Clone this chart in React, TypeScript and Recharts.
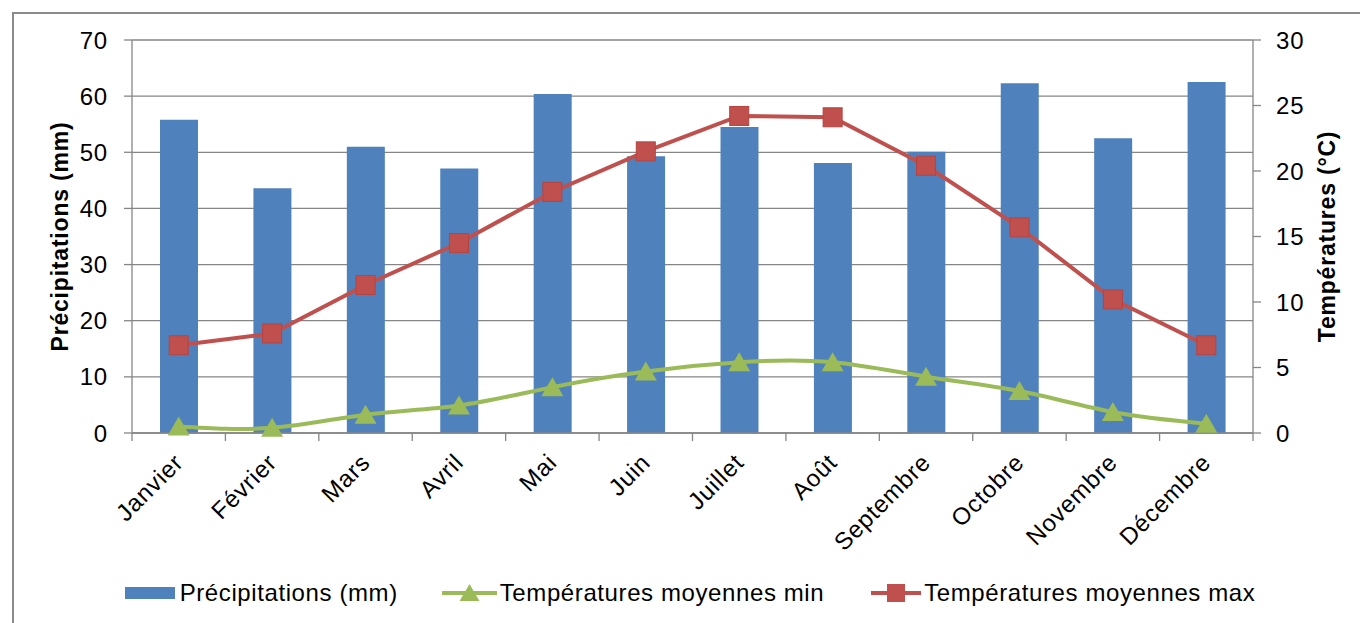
import React from 'react';
import { ComposedChart, Bar, Line, XAxis, YAxis, CartesianGrid, Legend } from 'recharts';

const months = ['Janvier', 'Février', 'Mars', 'Avril', 'Mai', 'Juin', 'Juillet', 'Août', 'Septembre', 'Octobre', 'Novembre', 'Décembre'];
const precipitations = [55.8, 43.6, 51.0, 47.1, 60.4, 49.3, 54.5, 48.1, 50.1, 62.3, 52.5, 62.5];
const tempMin = [0.5, 0.4, 1.4, 2.1, 3.5, 4.7, 5.4, 5.4, 4.3, 3.2, 1.6, 0.7];
const tempMax = [6.7, 7.6, 11.3, 14.5, 18.4, 21.5, 24.2, 24.1, 20.4, 15.7, 10.2, 6.7];
const leftTicks = [0, 10, 20, 30, 40, 50, 60, 70];
const rightTicks = [0, 5, 10, 15, 20, 25, 30];

const seriesNames = {
  precip: 'Précipitations (mm)',
  min: 'Températures moyennes min',
  max: 'Températures moyennes max',
};

const BLUE = '#4F81BD';
const GREEN = '#9BBB59';
const RED = '#C0504D';
const GREY = '#868686';
const FONT = '"Liberation Sans", Arial, sans-serif';

const data = months.map((m, i) => ({
  month: m,
  precip: precipitations[i],
  min: tempMin[i],
  max: tempMax[i],
}));

const MonthTick = (props: any) => {
  const { x, y, payload, index, width, visibleTicksCount } = props;
  let half = payload && typeof payload.offset === 'number' && payload.offset > 0 ? payload.offset : 0;
  if (!half && width && visibleTicksCount) half = width / visibleTicksCount / 2;
  const ax = x + 6;
  const ay = y + 31;
  const isLast = visibleTicksCount ? index === visibleTicksCount - 1 : index === months.length - 1;
  return (
    <g>
      <line x1={x - half} y1={y} x2={x - half} y2={y + 8} stroke={GREY} strokeWidth={1.3} />
      {isLast && <line x1={x + half} y1={y} x2={x + half} y2={y + 8} stroke={GREY} strokeWidth={1.3} />}
      <text
        x={ax}
        y={ay}
        transform={`rotate(-45, ${ax}, ${ay})`}
        textAnchor="end"
        fontFamily={FONT}
        fontSize={24}
        letterSpacing={0.8}
        fill="#000"
      >
        {payload.value}
      </text>
    </g>
  );
};

const SquareDot = (props: any) => {
  const { cx, cy } = props;
  if (cx == null || cy == null) return null;
  return <rect x={cx - 9.5} y={cy - 9.5} width={19} height={19} fill={RED} stroke="#B8433F" strokeWidth={1} />;
};

const TriangleDot = (props: any) => {
  const { cx, cy } = props;
  if (cx == null || cy == null) return null;
  return <polygon points={`${cx},${cy - 10} ${cx + 11},${cy + 9} ${cx - 11},${cy + 9}`} fill={GREEN} />;
};

const LegendContent = () => (
  <div
    style={{
      display: 'flex',
      justifyContent: 'center',
      alignItems: 'center',
      fontFamily: FONT,
      fontSize: 24,
      letterSpacing: 0.6,
      color: '#000',
      paddingLeft: 20,
      lineHeight: '28px',
    }}
  >
    <span style={{ display: 'flex', alignItems: 'center' }}>
      <svg width={50} height={14}>
        <rect x={0} y={1} width={50} height={12} fill={BLUE} />
      </svg>
      <span style={{ marginLeft: 5 }}>{seriesNames.precip}</span>
    </span>
    <span style={{ display: 'flex', alignItems: 'center', marginLeft: 44 }}>
      <svg width={55} height={22}>
        <line x1={0} y1={11} x2={55} y2={11} stroke={GREEN} strokeWidth={4} />
        <polygon points="27.5,2 37.5,19 17.5,19" fill={GREEN} />
      </svg>
      <span style={{ marginLeft: 3 }}>{seriesNames.min}</span>
    </span>
    <span style={{ display: 'flex', alignItems: 'center', marginLeft: 47 }}>
      <svg width={50} height={22}>
        <line x1={0} y1={11} x2={50} y2={11} stroke={RED} strokeWidth={4} />
        <rect x={16} y={2} width={18} height={18} fill={RED} />
      </svg>
      <span style={{ marginLeft: 3 }}>{seriesNames.max}</span>
    </span>
  </div>
);

export default function App() {
  return (
    <div style={{ position: 'absolute', left: 0, top: 0, width: 1360, height: 623, background: '#fff', overflow: 'hidden' }}>
      <div
        style={{
          position: 'absolute',
          left: 12,
          top: 12,
          width: 1400,
          height: 700,
          border: '2px solid #8a8a8a',
          boxSizing: 'border-box',
        }}
      />
      <div style={{ position: 'absolute', left: 0, top: 0 }}>
        <ComposedChart width={1360} height={623} data={data} margin={{ top: 40, right: 0, bottom: 189, left: 0 }}>
          <CartesianGrid yAxisId="left" horizontal vertical={false} stroke={GREY} strokeWidth={1.3} />
          <XAxis
            dataKey="month"
            height={1}
            tickLine={false}
            tickSize={0}
            tickMargin={0}
            interval={0}
            axisLine={{ stroke: GREY, strokeWidth: 1.3 }}
            tick={<MonthTick />}
          />
          <YAxis
            yAxisId="left"
            width={132}
            domain={[0, 70]}
            ticks={leftTicks}
            interval={0}
            tickSize={8}
            tickMargin={16}
            axisLine={{ stroke: GREY, strokeWidth: 1.3 }}
            tickLine={{ stroke: GREY, strokeWidth: 1.3 }}
            tick={{ fontFamily: FONT, fontSize: 24, fill: '#000', letterSpacing: 0.8 }}
            label={{
              value: 'Précipitations (mm)',
              angle: -90,
              position: 'center',
              dx: -6,
              style: { fontFamily: FONT, fontSize: 23, fontWeight: 'bold', fill: '#000', letterSpacing: 0.8, textAnchor: 'middle' },
            }}
          />
          <YAxis
            yAxisId="right"
            orientation="right"
            width={107}
            domain={[0, 30]}
            ticks={rightTicks}
            interval={0}
            tickSize={8}
            tickMargin={15}
            axisLine={{ stroke: GREY, strokeWidth: 1.3 }}
            tickLine={{ stroke: GREY, strokeWidth: 1.3 }}
            tick={{ fontFamily: FONT, fontSize: 24, fill: '#000', letterSpacing: 0.8 }}
            label={{
              value: 'Températures (°C)',
              angle: -90,
              position: 'center',
              dx: 20,
              style: { fontFamily: FONT, fontSize: 23, fontWeight: 'bold', fill: '#000', letterSpacing: 0.8, textAnchor: 'middle' },
            }}
          />
          <Bar yAxisId="left" dataKey="precip" name={seriesNames.precip} fill={BLUE} barSize={38} isAnimationActive={false} />
          <Line
            yAxisId="right"
            type="natural"
            dataKey="min"
            name={seriesNames.min}
            stroke={GREEN}
            strokeWidth={4}
            dot={<TriangleDot />}
            activeDot={false}
            isAnimationActive={false}
          />
          <Line
            yAxisId="right"
            type="linear"
            dataKey="max"
            name={seriesNames.max}
            stroke={RED}
            strokeWidth={4}
            dot={<SquareDot />}
            activeDot={false}
            isAnimationActive={false}
          />
          <Legend
            layout="horizontal"
            verticalAlign="middle"
            align="center"
            wrapperStyle={{ top: 579, left: 0, width: 1360 }}
            content={<LegendContent />}
          />
        </ComposedChart>
      </div>
    </div>
  );
}
